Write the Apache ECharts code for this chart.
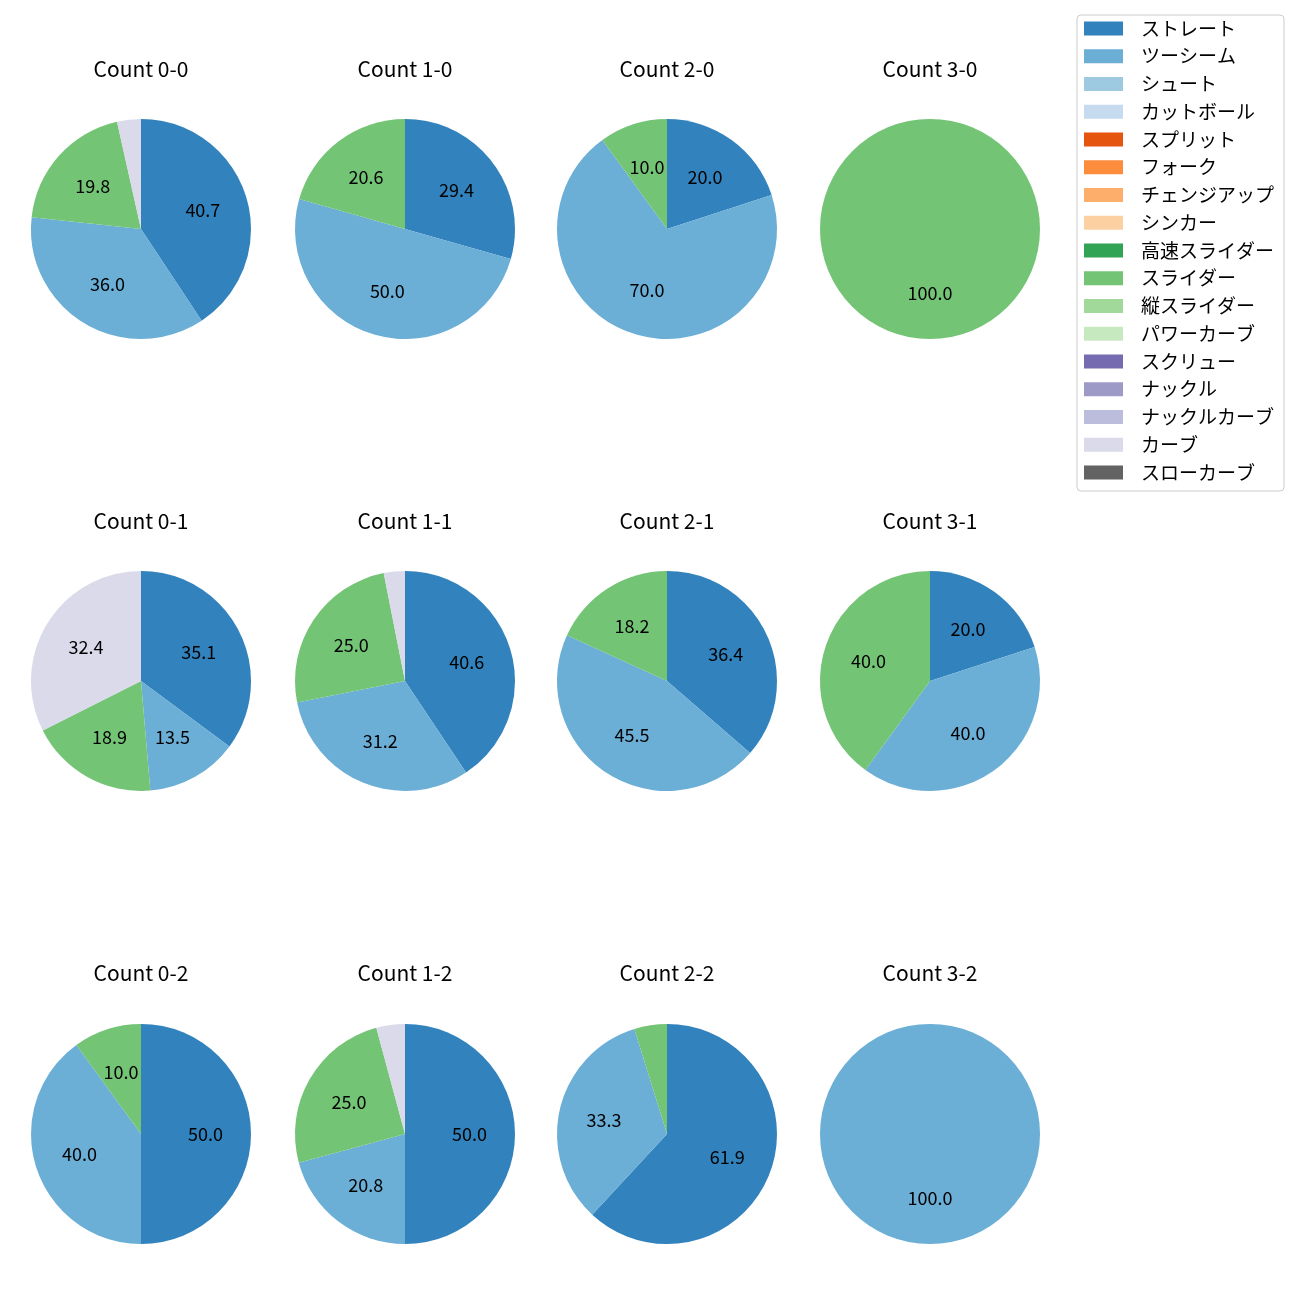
<!DOCTYPE html>
<html>
<head>
<meta charset="utf-8">
<script src="https://cdn.jsdelivr.net/npm/echarts@6/dist/echarts.min.js"></script>
<style>html,body{margin:0;padding:0;background:#fff;}#c{width:1300px;height:1300px;}</style>
</head>
<body>
<div id="c"></div>
<script>
// Pitch types (legend order)
const categories = ['ストレート','ツーシーム','シュート','カットボール','スプリット','フォーク','チェンジアップ','シンカー','高速スライダー','スライダー','縦スライダー','パワーカーブ','スクリュー','ナックル','ナックルカーブ','カーブ','スローカーブ'];
// Subplot titles (ball-strike counts), row by row
const counts = ['0-0','1-0','2-0','3-0','0-1','1-1','2-1','3-1','0-2','1-2','2-2','3-2'];
// Percentages per pitch type for each count (same order as counts)
const straight = [40.7, 29.4, 20.0, 0, 35.1, 40.6, 36.4, 20.0, 50.0, 50.0, 61.9, 0];
const twoSeam  = [36.0, 50.0, 70.0, 0, 13.5, 31.2, 45.5, 40.0, 40.0, 20.8, 33.3, 100.0];
const slider   = [19.8, 20.6, 10.0, 100.0, 18.9, 25.0, 18.2, 40.0, 10.0, 25.0, 4.8, 0];
const curve    = [3.5, 0, 0, 0, 32.4, 3.1, 0, 0, 0, 4.2, 0, 0];

const palette = ['#3182bd','#6baed6','#9ecae1','#c6dbef','#e6550d','#fd8d3c','#fdae6b','#fdd0a2','#31a354','#74c476','#a1d99b','#c7e9c0','#756bb1','#9e9ac8','#bcbddc','#dadaeb','#636363'];
const seriesByType = { 'ストレート': straight, 'ツーシーム': twoSeam, 'スライダー': slider, 'カーブ': curve };

const FONT = '"Noto Sans CJK JP", "Noto Sans", sans-serif';
const colX = [141, 405, 667, 930];
const rowY = [229, 681, 1134];
const titleY = [69, 521, 973];
const R = 110;

const series = [];
// legend provider (invisible)
series.push({
  type: 'pie', name: 'legend', center: [-500, -500], radius: [0, 0], silent: true,
  label: { show: false }, labelLine: { show: false },
  data: categories.map((c, i) => ({ name: c, value: 1, itemStyle: { color: palette[i] } }))
});
const graphics = [];
counts.forEach((cnt, k) => {
  const col = k % 4, row = Math.floor(k / 4);
  const data = [];
  categories.forEach((c, i) => {
    const arr = seriesByType[c];
    if (arr && arr[k] > 0) data.push({ name: c, value: arr[k], itemStyle: { color: palette[i] } });
  });
  const center = [colX[col], rowY[row]];
  series.push({
    type: 'pie', center, radius: [0, R], startAngle: 90, clockwise: true, silent: true,
    label: { show: false }, labelLine: { show: false }, emphasis: { disabled: true },
    itemStyle: { borderWidth: 0 }, data
  });
  series.push({
    type: 'pie', center, radius: [R * 0.12, R], startAngle: 90, clockwise: true, silent: true,
    emphasis: { disabled: true }, labelLine: { show: false },
    itemStyle: { color: 'rgba(0,0,0,0)', borderWidth: 0 },
    label: {
      show: true, position: 'inside', fontFamily: FONT, fontSize: 18, color: '#000',
      formatter: p => (p.value >= 5 ? p.value.toFixed(1) : '')
    },
    data: data.map(d => ({ name: d.name, value: d.value }))
  });
  graphics.push({
    type: 'text', x: colX[col], y: titleY[row],
    style: { text: 'Count ' + cnt, font: '21px ' + FONT, fill: '#000', align: 'center', verticalAlign: 'middle' }
  });
});

const chart = echarts.init(document.getElementById('c'));
chart.setOption({
  animation: false,
  backgroundColor: '#fff',
  legend: {
    orient: 'vertical', left: 1077, top: 15, padding: [4, 10, 9, 7],
    itemWidth: 39, itemHeight: 14, itemGap: 8.75, icon: 'rect',
    borderColor: '#cccccc', borderWidth: 1, borderRadius: 4,
    data: categories, selectedMode: false,
    textStyle: { fontFamily: FONT, fontSize: 19, lineHeight: 18, color: '#000', padding: [0, 0, 0, 13] }
  },
  graphic: graphics,
  series
});
</script>
</body>
</html>
